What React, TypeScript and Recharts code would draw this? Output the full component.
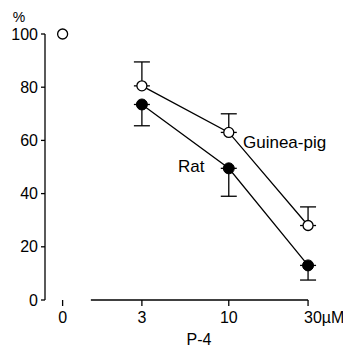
import { ComposedChart, Line, XAxis, YAxis, ErrorBar, ReferenceLine } from "recharts";

const doses = [0, 3, 10, 30];
const doseLabels = ["0", "3", "10", "30µM"];
const control = [100, null, null, null];
const guineaPig = [null, 80.5, 63, 28];
const guineaPigSem = [null, 9, 7, 7];
const rat = [null, 73.5, 49.5, 13];
const ratSem = [null, 8, 10.5, 5.5];
const yTicks = [0, 20, 40, 60, 80, 100];

// the "0" dose sits one decade below 10 (log position 0), axis is broken before 3
const pos = (d: number) => (d === 0 ? 0 : Math.log10(d));
const axisBreakStart = 0.17;

const data = doses.map((d, i) => ({
  pos: pos(d),
  control: control[i],
  gp: guineaPig[i],
  gpErr: guineaPigSem[i] == null ? null : [0, guineaPigSem[i]],
  rat: rat[i],
  ratErr: ratSem[i] == null ? null : [ratSem[i], 0],
}));

const font = "'Liberation Sans', Arial, sans-serif";

function DoseTick(props: any) {
  const { x, y, payload } = props;
  const i = doses.findIndex((d) => Math.abs(pos(d) - payload.value) < 1e-6);
  const label = doseLabels[i] ?? "";
  const last = i === doses.length - 1;
  return (
    <text
      x={last ? x - 4 : x}
      y={y + 15}
      fontSize={16}
      fontFamily={font}
      fill="#000"
      textAnchor={last ? "start" : "middle"}
    >
      {label}
    </text>
  );
}

export default function App() {
  return (
    <div style={{ position: "absolute", left: 0, top: 0, background: "#fff" }}>
      <ComposedChart width={343} height={347} data={data} margin={{ top: 34, right: 23, bottom: 0, left: 0 }}>
        <XAxis
          dataKey="pos"
          type="number"
          domain={[-0.106, 1.549]}
          ticks={doses.map(pos)}
          interval={0}
          axisLine={false}
          tickLine={{ stroke: "#000", strokeWidth: 1.3 }}
          tickSize={6}
          tick={<DoseTick />}
          height={47}
          allowDataOverflow
        />
        <YAxis
          type="number"
          domain={[0, 100]}
          ticks={yTicks}
          interval={0}
          width={45}
          axisLine={{ stroke: "#000", strokeWidth: 1.3 }}
          tickLine={{ stroke: "#000", strokeWidth: 1.3 }}
          tickSize={4}
          tickMargin={3}
          tick={{ fontSize: 16, fontFamily: font, fill: "#000" }}
        />
        <ReferenceLine
          segment={[{ x: axisBreakStart, y: 0 }, { x: pos(30), y: 0 }]}
          stroke="#000"
          strokeWidth={1.3}
          ifOverflow="visible"
        />
        <Line
          dataKey="control"
          stroke="none"
          isAnimationActive={false}
          dot={{ r: 5, fill: "#fff", stroke: "#000", strokeWidth: 1.3 }}
        />
        <Line
          dataKey="gp"
          stroke="#000"
          strokeWidth={1.3}
          isAnimationActive={false}
          dot={{ r: 5, fill: "#fff", stroke: "#000", strokeWidth: 1.3 }}
        >
          <ErrorBar dataKey="gpErr" direction="y" width={8} stroke="#000" strokeWidth={1.3} />
        </Line>
        <Line
          dataKey="rat"
          stroke="#000"
          strokeWidth={1.3}
          isAnimationActive={false}
          dot={{ r: 5.5, fill: "#000", stroke: "#000", strokeWidth: 1 }}
        >
          <ErrorBar dataKey="ratErr" direction="y" width={8} stroke="#000" strokeWidth={1.3} />
        </Line>
        <text x={19} y={22} fontSize={14} fontFamily={font} fill="#000" textAnchor="middle">%</text>
        <text x={243} y={148} fontSize={17} fontFamily={font} fill="#000">Guinea-pig</text>
        <text x={178} y={172} fontSize={17} fontFamily={font} fill="#000">Rat</text>
        <text x={199} y={345} fontSize={16} fontFamily={font} fill="#000" textAnchor="middle">P-4</text>
      </ComposedChart>
    </div>
  );
}
